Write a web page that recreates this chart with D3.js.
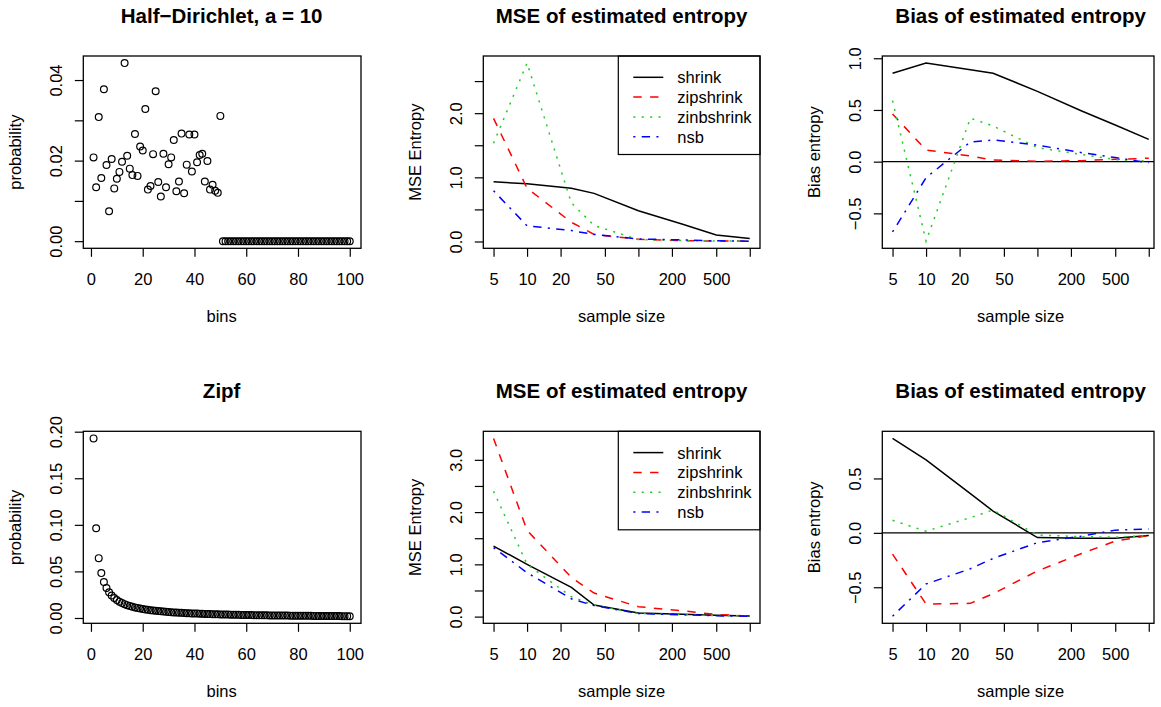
<!DOCTYPE html>
<html>
<head>
<meta charset="utf-8">
<script src="https://cdn.jsdelivr.net/npm/d3@7"></script>
<style>
  body { margin: 0; background: #fff; }
  svg { display: block; }
  text { font-family: "Liberation Sans", Arial, Helvetica, sans-serif; fill: #000; }
</style>
</head>
<body>
<svg id="fig" width="1161" height="707"></svg>
<script>
// ---- data ----------------------------------------------------------------
const sampleSizes = [5, 10, 25, 40, 100, 250, 500, 1000];
const methodNames = ["shrink", "zipshrink", "zinbshrink", "nsb"];

// Half-Dirichlet (a = 10) cell probabilities, bins 1..100
const dirichletProb = [
  0.0208, 0.0134, 0.0308, 0.0157, 0.0377, 0.0189, 0.0074, 0.0204, 0.0131, 0.0155,
  0.0172, 0.0197, 0.0442, 0.0212, 0.0180, 0.0164, 0.0266, 0.0162, 0.0235, 0.0225,
  0.0328, 0.0128, 0.0137, 0.0216, 0.0372, 0.0147, 0.0111, 0.0217, 0.0134, 0.0191,
  0.0208, 0.0251, 0.0124, 0.0148, 0.0267, 0.0119, 0.0190, 0.0265, 0.0173, 0.0265,
  0.0196, 0.0214, 0.0217, 0.0148, 0.0199, 0.0128, 0.0140, 0.0125, 0.0120, 0.0311,
  0, 0, 0, 0, 0, 0, 0, 0, 0, 0,
  0, 0, 0, 0, 0, 0, 0, 0, 0, 0,
  0, 0, 0, 0, 0, 0, 0, 0, 0, 0,
  0, 0, 0, 0, 0, 0, 0, 0, 0, 0,
  0, 0, 0, 0, 0, 0, 0, 0, 0, 0
];

// Zipf cell probabilities, bins 1..100
const zipfProb = [
  0.19278, 0.09639, 0.06426, 0.04819, 0.03856, 0.03213, 0.02754, 0.02410, 0.02142, 0.01928,
  0.01753, 0.01606, 0.01483, 0.01377, 0.01285, 0.01205, 0.01134, 0.01071, 0.01015, 0.00964,
  0.00918, 0.00876, 0.00838, 0.00803, 0.00771, 0.00741, 0.00714, 0.00688, 0.00665, 0.00643,
  0.00622, 0.00602, 0.00584, 0.00567, 0.00551, 0.00536, 0.00521, 0.00507, 0.00494, 0.00482,
  0.00470, 0.00459, 0.00448, 0.00438, 0.00428, 0.00419, 0.00410, 0.00402, 0.00393, 0.00386,
  0.00378, 0.00371, 0.00364, 0.00357, 0.00351, 0.00344, 0.00338, 0.00332, 0.00327, 0.00321,
  0.00316, 0.00311, 0.00306, 0.00301, 0.00297, 0.00292, 0.00288, 0.00283, 0.00279, 0.00275,
  0.00272, 0.00268, 0.00264, 0.00261, 0.00257, 0.00254, 0.00250, 0.00247, 0.00244, 0.00241,
  0.00238, 0.00235, 0.00232, 0.00229, 0.00227, 0.00224, 0.00222, 0.00219, 0.00217, 0.00214,
  0.00212, 0.00210, 0.00207, 0.00205, 0.00203, 0.00201, 0.00199, 0.00197, 0.00195, 0.00193
];

// MSE / bias of the entropy estimates, Half-Dirichlet
const dirMseShrink = [0.93, 0.90, 0.83, 0.75, 0.48, 0.27, 0.10, 0.045];
const dirMseZip    = [1.92, 0.83, 0.30, 0.11, 0.035, 0.012, 0.008, 0.005];
const dirMseZinb   = [1.53, 2.78, 0.60, 0.25, 0.03, 0.015, 0.008, 0.005];
const dirMseNsb    = [0.79, 0.245, 0.17, 0.11, 0.04, 0.025, 0.01, 0.005];

const dirBiasShrink = [0.855, 0.953, 0.89, 0.855, 0.68, 0.49, 0.355, 0.215];
const dirBiasZip    = [0.46, 0.113, 0.055, 0.016, 0.004, 0.01, 0.023, 0.033];
const dirBiasZinb   = [0.59, -0.769, 0.42, 0.345, 0.135, 0.07, 0.02, 0.005];
const dirBiasNsb    = [-0.68, -0.155, 0.19, 0.21, 0.16, 0.087, 0.04, -0.01];

// MSE / bias of the entropy estimates, Zipf
const zipfMseShrink = [1.35, 1.00, 0.56, 0.22, 0.07, 0.045, 0.025, 0.01];
const zipfMseZip    = [3.41, 1.65, 0.75, 0.45, 0.19, 0.11, 0.04, 0.01];
const zipfMseZinb   = [2.40, 1.00, 0.38, 0.22, 0.06, 0.04, 0.02, 0.01];
const zipfMseNsb    = [1.32, 0.84, 0.34, 0.21, 0.06, 0.035, 0.015, 0.008];

const zipfBiasShrink = [0.868, 0.67, 0.36, 0.20, -0.043, -0.05, -0.05, -0.025];
const zipfBiasZip    = [-0.195, -0.655, -0.648, -0.56, -0.35, -0.19, -0.076, -0.025];
const zipfBiasZinb   = [0.115, 0.015, 0.14, 0.21, -0.02, -0.035, -0.04, -0.025];
const zipfBiasNsb    = [-0.766, -0.47, -0.33, -0.235, -0.09, -0.03, 0.025, 0.035];

// axis ticks and their printed labels
const binTicks = [0, 20, 40, 60, 80, 100];
const binTickLabels = ["0", "20", "40", "60", "80", "100"];
const sizeTicks = [5, 10, 20, 50, 100, 200, 500, 1000];
const sizeTickLabels = ["5", "10", "20", "50", "", "200", "500", ""];
const dirProbTicks = [0, 0.01, 0.02, 0.03, 0.04];
const dirProbTickLabels = ["0.00", "", "0.02", "", "0.04"];
const zipfProbTicks = [0, 0.05, 0.10, 0.15, 0.20];
const zipfProbTickLabels = ["0.00", "0.05", "0.10", "0.15", "0.20"];
const dirMseTicks = [0, 0.5, 1, 1.5, 2, 2.5];
const dirMseTickLabels = ["0.0", "", "1.0", "", "2.0", ""];
const zipfMseTicks = [0, 0.5, 1, 1.5, 2, 2.5, 3];
const zipfMseTickLabels = ["0.0", "", "1.0", "", "2.0", "", "3.0"];
const dirBiasTicks = [-0.5, 0, 0.5, 1];
const dirBiasTickLabels = ["\u22120.5", "0.0", "0.5", "1.0"];
const zipfBiasTicks = [-0.5, 0, 0.5];
const zipfBiasTickLabels = ["\u22120.5", "0.0", "0.5"];

// ---- styling -------------------------------------------------------------
const lineColors = ["#000000", "#ff0000", "#22cc22", "#0000ff"];
const lineDashes = [null, "8.4,8.4", "2.1,6.3", "2.1,6.3,8.4,6.3"];
const AXIS_FONT = 16.5;
const TITLE_FONT = 20.5;

const svg = d3.select("#fig");

// R-style 4% padding of a data range
function padRange(lo, hi) {
  const r = hi - lo;
  return [lo - 0.04 * r, hi + 0.04 * r];
}
function padLogRange(lo, hi) {
  const a = Math.log10(lo), b = Math.log10(hi), r = b - a;
  return [Math.pow(10, a - 0.04 * r), Math.pow(10, b + 0.04 * r)];
}

// plot-region layout: scale span and drawn frame per column / row
const PLOT_W = 276.7;
const colX = [83.3, 483.3, 882.3];
const frameRight = [361, 760, 1154];
const rowY = [[56, 248.3], [431.3, 623.3]];

function drawPanel(o) {
  const x0 = colX[o.col];
  const x1 = x0 + PLOT_W;
  const fx1 = frameRight[o.col];
  const [y0, y1] = rowY[o.row];
  const g = svg.append("g");

  const x = o.logX
    ? d3.scaleLog().domain(padLogRange(o.xExtent[0], o.xExtent[1])).range([x0, x1])
    : d3.scaleLinear().domain(padRange(o.xExtent[0], o.xExtent[1])).range([x0, x1]);
  const y = d3.scaleLinear().domain(padRange(o.yExtent[0], o.yExtent[1])).range([y1, y0]);

  // x axis
  const xAxis = d3.axisBottom(x)
    .tickValues(o.xTicks)
    .tickSize(8.5)
    .tickPadding(16)
    .tickFormat((d, i) => o.xTickLabels[i]);
  const gx = g.append("g").attr("transform", `translate(0,${y1})`).call(xAxis);
  gx.select(".domain").remove();
  gx.selectAll(".tick line").attr("stroke", "#000").attr("stroke-width", 1.2);
  gx.selectAll(".tick text").attr("font-size", AXIS_FONT).attr("font-family", null)
    .attr("fill", "#000").attr("dy", "0.71em");

  // y axis with rotated labels
  const yAxis = d3.axisLeft(y)
    .tickValues(o.yTicks)
    .tickSize(8.5)
    .tickFormat((d, i) => o.yTickLabels[i]);
  const gy = g.append("g").attr("transform", `translate(${x0},0)`).call(yAxis);
  gy.select(".domain").remove();
  gy.selectAll(".tick line").attr("stroke", "#000").attr("stroke-width", 1.2);
  gy.selectAll(".tick text")
    .attr("font-size", AXIS_FONT).attr("font-family", null).attr("fill", "#000")
    .attr("x", 0).attr("y", -21.5).attr("dy", null)
    .attr("text-anchor", "middle")
    .attr("transform", "rotate(-90)");

  // horizontal reference line
  if (o.zeroLine) {
    g.append("line")
      .attr("x1", x0).attr("x2", fx1)
      .attr("y1", y(0)).attr("y2", y(0))
      .attr("stroke", "#000").attr("stroke-width", 1.4);
  }

  // point markers
  if (o.points) {
    g.append("g").selectAll("circle")
      .data(o.points)
      .join("circle")
      .attr("cx", (d, i) => x(i + 1))
      .attr("cy", d => y(d))
      .attr("r", 3.4)
      .attr("fill", "none")
      .attr("stroke", "#000")
      .attr("stroke-width", 1.2);
  }

  // method curves
  if (o.series) {
    const line = d3.line().x((d, i) => x(sampleSizes[i])).y(d => y(d));
    o.series.forEach((s, k) => {
      g.append("path")
        .attr("d", line(s))
        .attr("fill", "none")
        .attr("stroke", lineColors[k])
        .attr("stroke-width", 1.5)
        .attr("stroke-dasharray", lineDashes[k]);
    });
  }

  // legend
  if (o.legend) {
    const lx0 = 618.3, lx1 = fx1;
    const ly0 = y0, ly1 = y0 + 98.5;
    const lg = g.append("g");
    lg.append("rect")
      .attr("x", lx0).attr("y", ly0)
      .attr("width", lx1 - lx0).attr("height", ly1 - ly0)
      .attr("fill", "#fff").attr("stroke", "#000").attr("stroke-width", 1.2);
    methodNames.forEach((name, k) => {
      const ry = ly0 + 21.3 + k * 19.8;
      lg.append("line")
        .attr("x1", 633.3).attr("x2", 663.3)
        .attr("y1", ry).attr("y2", ry)
        .attr("stroke", lineColors[k]).attr("stroke-width", 1.5)
        .attr("stroke-dasharray", lineDashes[k]);
      lg.append("text")
        .attr("x", 677.3).attr("y", ry + 6)
        .attr("font-size", AXIS_FONT)
        .text(name);
    });
  }

  // frame
  g.append("rect")
    .attr("x", x0).attr("y", y0)
    .attr("width", fx1 - x0).attr("height", y1 - y0)
    .attr("fill", "none").attr("stroke", "#000").attr("stroke-width", 1.3);

  // titles
  const cx = (x0 + x1) / 2;
  g.append("text")
    .attr("x", cx).attr("y", y0 - 33.3)
    .attr("text-anchor", "middle")
    .attr("font-size", TITLE_FONT).attr("font-weight", "bold")
    .text(o.title);
  g.append("text")
    .attr("x", cx).attr("y", y1 + 74)
    .attr("text-anchor", "middle")
    .attr("font-size", AXIS_FONT)
    .text(o.xLabel);
  g.append("text")
    .attr("transform", `translate(${x0 - 62},${(y0 + y1) / 2}) rotate(-90)`)
    .attr("text-anchor", "middle")
    .attr("font-size", AXIS_FONT)
    .text(o.yLabel);
}

function extentOf(arrays) {
  return d3.extent(arrays.flat());
}

// ---- panels --------------------------------------------------------------
drawPanel({
  row: 0, col: 0, title: "Half\u2212Dirichlet, a = 10",
  xLabel: "bins", yLabel: "probability",
  xExtent: [1, dirichletProb.length], yExtent: d3.extent(dirichletProb),
  xTicks: binTicks, xTickLabels: binTickLabels,
  yTicks: dirProbTicks, yTickLabels: dirProbTickLabels,
  points: dirichletProb
});

const dirMse = [dirMseShrink, dirMseZip, dirMseZinb, dirMseNsb];
drawPanel({
  row: 0, col: 1, title: "MSE of estimated entropy",
  xLabel: "sample size", yLabel: "MSE Entropy", logX: true,
  xExtent: d3.extent(sampleSizes), yExtent: extentOf(dirMse),
  xTicks: sizeTicks, xTickLabels: sizeTickLabels,
  yTicks: dirMseTicks, yTickLabels: dirMseTickLabels,
  series: dirMse, legend: true
});

const dirBias = [dirBiasShrink, dirBiasZip, dirBiasZinb, dirBiasNsb];
drawPanel({
  row: 0, col: 2, title: "Bias of estimated entropy",
  xLabel: "sample size", yLabel: "Bias entropy", logX: true,
  xExtent: d3.extent(sampleSizes), yExtent: extentOf(dirBias),
  xTicks: sizeTicks, xTickLabels: sizeTickLabels,
  yTicks: dirBiasTicks, yTickLabels: dirBiasTickLabels,
  series: dirBias, zeroLine: true
});

drawPanel({
  row: 1, col: 0, title: "Zipf",
  xLabel: "bins", yLabel: "probability",
  xExtent: [1, zipfProb.length], yExtent: d3.extent(zipfProb),
  xTicks: binTicks, xTickLabels: binTickLabels,
  yTicks: zipfProbTicks, yTickLabels: zipfProbTickLabels,
  points: zipfProb
});

const zipfMse = [zipfMseShrink, zipfMseZip, zipfMseZinb, zipfMseNsb];
drawPanel({
  row: 1, col: 1, title: "MSE of estimated entropy",
  xLabel: "sample size", yLabel: "MSE Entropy", logX: true,
  xExtent: d3.extent(sampleSizes), yExtent: extentOf(zipfMse),
  xTicks: sizeTicks, xTickLabels: sizeTickLabels,
  yTicks: zipfMseTicks, yTickLabels: zipfMseTickLabels,
  series: zipfMse, legend: true
});

const zipfBias = [zipfBiasShrink, zipfBiasZip, zipfBiasZinb, zipfBiasNsb];
drawPanel({
  row: 1, col: 2, title: "Bias of estimated entropy",
  xLabel: "sample size", yLabel: "Bias entropy", logX: true,
  xExtent: d3.extent(sampleSizes), yExtent: extentOf(zipfBias),
  xTicks: sizeTicks, xTickLabels: sizeTickLabels,
  yTicks: zipfBiasTicks, yTickLabels: zipfBiasTickLabels,
  series: zipfBias, zeroLine: true
});
</script>
</body>
</html>
